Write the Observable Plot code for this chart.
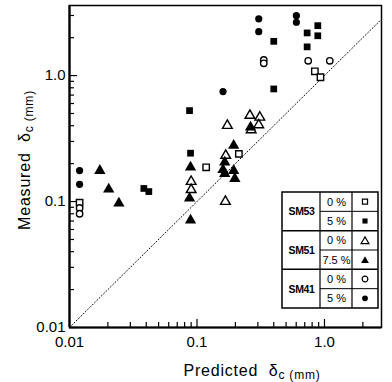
<!DOCTYPE html>
<html>
<head>
<meta charset="utf-8">
<script src="https://cdn.jsdelivr.net/npm/d3@7"></script>
<script src="https://cdn.jsdelivr.net/npm/@observablehq/plot@0.6"></script>
<style>
  html, body { margin: 0; padding: 0; background: #fff; }
  #chart { width: 392px; height: 382px; }
</style>
</head>
<body>
<div id="chart"></div>
<script>
// ---- data ----
const sm53_0_x = [0.012, 0.118, 0.213, 0.84, 0.93];
const sm53_0_y = [0.098, 0.187, 0.239, 1.08, 0.97];

const sm53_5_x = [0.0383, 0.0419, 0.0874, 0.089, 0.40, 0.40, 0.731, 0.731, 0.886, 0.886];
const sm53_5_y = [0.127, 0.120, 0.527, 0.242, 1.87, 0.783, 2.18, 1.69, 2.49, 2.07];

const sm51_0_x = [0.090, 0.090, 0.167, 0.173, 0.168, 0.260, 0.311, 0.305, 0.266];
const sm51_0_y = [0.144, 0.124, 0.100, 0.401, 0.232, 0.482, 0.466, 0.406, 0.370];

const sm51_75_x = [0.0173, 0.0203, 0.0244, 0.089, 0.0874, 0.089, 0.194, 0.165, 0.160, 0.165, 0.194, 0.198, 0.263];
const sm51_75_y = [0.176, 0.125, 0.097, 0.187, 0.106, 0.071, 0.278, 0.205, 0.179, 0.166, 0.176, 0.152, 0.389];

const sm41_0_x = [0.012, 0.012, 0.334, 0.334, 0.745, 1.10];
const sm41_0_y = [0.089, 0.080, 1.33, 1.25, 1.31, 1.31];

const sm41_5_x = [0.012, 0.012, 0.160, 0.305, 0.305, 0.602, 0.602];
const sm41_5_y = [0.176, 0.137, 0.746, 2.82, 2.23, 2.99, 2.65];

const xDomain = [0.01, 2.8];
const yDomain = [0.01, 3.6];
const majorTicks = [0.01, 0.1, 1];
const tickLabels = ["0.01", "0.1", "1.0"];
const xMinorTicks = [0.02,0.03,0.04,0.05,0.06,0.07,0.08,0.09,0.2,0.3,0.4,0.5,0.6,0.7,0.8,0.9,2];
const yMinorTicks = [0.02,0.03,0.04,0.05,0.06,0.07,0.08,0.09,0.2,0.3,0.4,0.5,0.6,0.7,0.8,0.9,2,3];
const diag = [0.01, 3.6];

const legendGroups = ["SM53", "SM51", "SM41"];
const legendPcts = ["0 %", "5 %", "0 %", "7.5 %", "0 %", "5 %"];

// ---- build ----
const zip = (xs, ys) => xs.map((x, i) => ({x, y: ys[i]}));
const W = 392, H = 382;
const mL = 69, mR = 11, mT = 5, mB = 55;
const plotH = H - mT - mB;
const plotW = W - mL - mR;
const font = "'Liberation Sans', Arial, sans-serif";

const openStyle = {fill: "white", stroke: "black", strokeWidth: 1.4};
const fillStyle = {fill: "black", stroke: "none"};

const chart = Plot.plot({
  width: W, height: H,
  marginLeft: mL, marginRight: mR, marginTop: mT, marginBottom: mB,
  style: {fontFamily: font, background: "white", color: "black"},
  x: {type: "log", domain: xDomain},
  y: {type: "log", domain: yDomain},
  marks: [
    Plot.line(diag, {x: d => d, y: d => d, stroke: "black", strokeWidth: 1, strokeDasharray: "1,2.2", clip: true}),
    // ticks (inward)
    Plot.tickX(majorTicks, {x: d => d, insetTop: plotH - 8, strokeWidth: 1.2}),
    Plot.tickX(xMinorTicks, {x: d => d, insetTop: plotH - 5, strokeWidth: 1.2}),
    Plot.tickY(majorTicks, {y: d => d, insetRight: plotW - 8, strokeWidth: 1.2}),
    Plot.tickY(yMinorTicks, {y: d => d, insetRight: plotW - 5, strokeWidth: 1.2}),
    Plot.axisX(majorTicks, {anchor: "bottom", tickSize: 0, tickPadding: 9, fontSize: 15, label: null,
      tickFormat: d => tickLabels[majorTicks.indexOf(d)]}),
    Plot.axisY(majorTicks, {anchor: "left", tickSize: 0, tickPadding: 4, fontSize: 15, label: null,
      tickFormat: d => tickLabels[majorTicks.indexOf(d)]}),
    Plot.frame({stroke: "black", strokeWidth: 1.5}),
    Plot.ruleX([xDomain[0]], {strokeWidth: 2.2}),
    Plot.ruleY([yDomain[0]], {strokeWidth: 2.2}),
    // data
    Plot.dot(zip(sm53_0_x, sm53_0_y), {x: "x", y: "y", symbol: "square", r: 3.6, ...openStyle}),
    Plot.dot(zip(sm53_5_x, sm53_5_y), {x: "x", y: "y", symbol: "square", r: 3.8, ...fillStyle}),
    Plot.dot(zip(sm51_0_x, sm51_0_y), {x: "x", y: "y", symbol: "triangle", r: 3.6, ...openStyle}),
    Plot.dot(zip(sm51_75_x, sm51_75_y), {x: "x", y: "y", symbol: "triangle", r: 4.2, ...fillStyle}),
    Plot.dot(zip(sm41_0_x, sm41_0_y), {x: "x", y: "y", symbol: "circle", r: 3.2, ...openStyle}),
    Plot.dot(zip(sm41_5_x, sm41_5_y), {x: "x", y: "y", symbol: "circle", r: 3.6, ...fillStyle})
  ]
});
document.getElementById("chart").appendChild(chart);

// ---- axis titles ----
const svg = d3.select(chart);
const xt = svg.append("text").attr("x", 252).attr("y", 376).attr("text-anchor", "middle")
  .attr("font-family", font).attr("font-size", 16).attr("letter-spacing", 0.8).attr("fill", "black");
xt.append("tspan").text("Predicted  δ");
xt.append("tspan").attr("font-size", 12).attr("dy", 3).text("c");
xt.append("tspan").attr("font-size", 12).attr("dy", 0).text(" (mm)");

const yt = svg.append("text").attr("transform", "translate(30,160) rotate(-90)").attr("text-anchor", "middle")
  .attr("font-family", font).attr("font-size", 16).attr("letter-spacing", 0.8).attr("fill", "black");
yt.append("tspan").text("Measured  δ");
yt.append("tspan").attr("font-size", 12).attr("dy", 3).text("c");
yt.append("tspan").attr("font-size", 12).attr("dy", 0).text(" (mm)");

// ---- legend table ----
const L = 282, T = 192, R = 378, B = 308, c1 = 320, c2 = 352;
const rowH = (B - T) / 6;
const g = svg.append("g").attr("fill", "none").attr("stroke", "black");
g.append("rect").attr("x", L).attr("y", T).attr("width", R - L).attr("height", B - T).attr("stroke-width", 1.5).attr("fill", "white");
g.append("line").attr("x1", c1).attr("x2", c1).attr("y1", T).attr("y2", B).attr("stroke-width", 1.2);
g.append("line").attr("x1", c2).attr("x2", c2).attr("y1", T).attr("y2", B).attr("stroke-width", 1.2);
for (let i = 1; i < 6; i++) {
  const y = T + i * rowH;
  const full = i % 2 === 0;
  g.append("line").attr("x1", full ? L : c1).attr("x2", R).attr("y1", y).attr("y2", y).attr("stroke-width", full ? 1.5 : 1);
}
legendGroups.forEach((name, i) => {
  svg.append("text").attr("x", (L + c1) / 2 + 0.5).attr("y", T + (2 * i + 1) * rowH + 4)
    .attr("text-anchor", "middle").attr("font-family", font).attr("font-size", 10.5).attr("font-weight", "bold")
    .attr("letter-spacing", -0.4).attr("fill", "black").text(name);
});
legendPcts.forEach((p, i) => {
  svg.append("text").attr("x", (c1 + c2) / 2 + 0.5).attr("y", T + (i + 0.5) * rowH + 4)
    .attr("text-anchor", "middle").attr("font-family", font).attr("font-size", 11)
    .attr("fill", "black").text(p);
});
const legendSyms = [
  [d3.symbolSquare, false], [d3.symbolSquare, true],
  [d3.symbolTriangle, false], [d3.symbolTriangle, true],
  [d3.symbolCircle, false], [d3.symbolCircle, true]
];
legendSyms.forEach(([sym, filled], i) => {
  const size = sym === d3.symbolTriangle ? 26 : 26;
  svg.append("path").attr("d", d3.symbol(sym, size)())
    .attr("transform", `translate(${(c2 + R) / 2},${T + (i + 0.5) * rowH + (sym === d3.symbolTriangle ? 1 : 0)})`)
    .attr("fill", filled ? "black" : "white").attr("stroke", "black").attr("stroke-width", filled ? 0 : 1.2);
});
</script>
</body>
</html>
